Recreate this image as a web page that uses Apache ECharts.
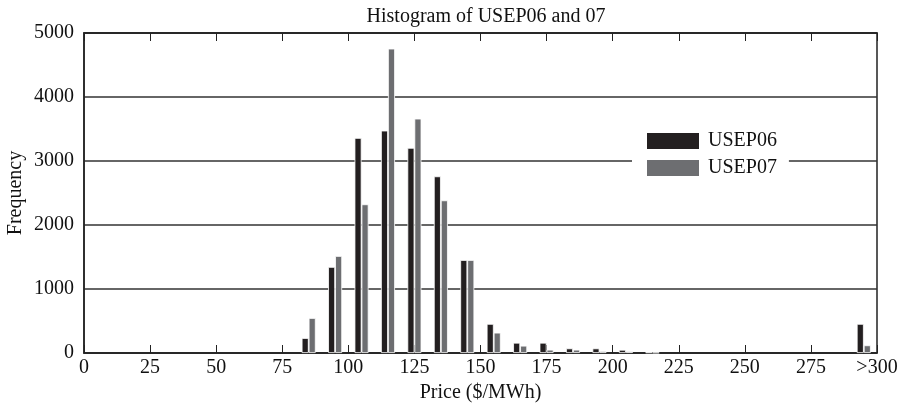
<!DOCTYPE html>
<html><head><meta charset="utf-8">
<script src="https://cdn.jsdelivr.net/npm/echarts@6/dist/echarts.min.js"></script>
<style>html,body{margin:0;padding:0;background:#fff}#c{width:905px;height:404px}</style>
</head><body><div id="c"></div>
<script>
const binCenters = [85, 95, 105, 115, 125, 135, 145, 155, 165, 175, 185, 195, 205, 215, 295];
const usep06 = [234, 1345, 3360, 3475, 3205, 2760, 1453, 455, 160, 160, 72, 72, 50, 10, 455];
const usep07 = [547, 1516, 2323, 4756, 3662, 2385, 1453, 318, 114, 52, 52, 31, 25, 5, 120];
const xTicks = [0, 25, 50, 75, 100, 125, 150, 175, 200, 225, 250, 275, 300];
const yTicks = [0, 1000, 2000, 3000, 4000, 5000];

const serif = '"Liberation Serif", "DejaVu Serif", serif';
const chart = echarts.init(document.getElementById('c'), null, {renderer: 'canvas'});
const pairs = (vals) => binCenters.map((x, i) => [x, vals[i]]);
chart.setOption({
  animation: false,
  backgroundColor: '#fff',
  title: {
    text: 'Histogram of USEP06 and 07',
    left: 481, top: 2, textAlign: 'center',
    textStyle: {fontFamily: serif, fontSize: 20, fontWeight: 'normal', color: '#111'}
  },
  legend: {
    orient: 'vertical', left: 632, top: 131,
    itemWidth: 54, itemHeight: 18, itemGap: 7,
    padding: [0, 12, 0, 13],
    backgroundColor: '#fff',
    icon: 'rect',
    textStyle: {fontFamily: serif, fontSize: 20, color: '#111', padding: [0, 0, 0, 3]},
    data: ['USEP06', 'USEP07']
  },
  grid: {left: 84, right: 28, top: 33, bottom: 51, containLabel: false, outerBoundsMode: 'none',
    show: true, borderColor: '#222', borderWidth: 1.5, backgroundColor: 'transparent'},
  xAxis: [{
    type: 'value', min: 0, max: 300, interval: 25,
    name: 'Price ($/MWh)', nameLocation: 'middle', nameGap: 26,
    nameTextStyle: {fontFamily: serif, fontSize: 20, color: '#111'},
    axisLine: {show: true, lineStyle: {color: '#222', width: 1.5}},
    axisTick: {show: true, inside: true, length: 8, lineStyle: {color: '#222'}},
    axisLabel: {fontFamily: serif, fontSize: 20, color: '#111', margin: 5,
      formatter: v => (v === 300 ? '>300' : String(v))},
    splitLine: {show: false}
  }, {
    type: 'value', min: 0, max: 300, interval: 25, position: 'top',
    axisLine: {show: true, lineStyle: {color: '#222', width: 1.5}},
    axisTick: {show: true, inside: true, length: 8, lineStyle: {color: '#222'}},
    axisLabel: {show: false}, splitLine: {show: false}
  }],
  yAxis: {
    type: 'value', min: 0, max: 5000, interval: 1000,
    name: 'Frequency', nameLocation: 'middle', nameGap: 58, nameRotate: 90,
    nameMoveOverlap: false,
    nameTextStyle: {fontFamily: serif, fontSize: 20, color: '#111'},
    axisLine: {show: true, lineStyle: {color: '#222', width: 1.5}},
    axisTick: {show: false},
    axisLabel: {fontFamily: serif, fontSize: 20, color: '#111', margin: 10,
      formatter: v => String(v)},
    splitLine: {show: true, lineStyle: {color: '#333', width: 1.5}}
  },
  series: [{
    name: 'USEP06', type: 'bar', data: pairs(usep06), barWidth: 7, barGap: '0%',
    itemStyle: {color: '#231f20', borderColor: '#fff', borderWidth: 0.8}
  }, {
    name: 'USEP07', type: 'bar', data: pairs(usep07), barWidth: 7, barGap: '0%',
    itemStyle: {color: '#6d6e71', borderColor: '#fff', borderWidth: 0.8}
  }]
});
</script></body></html>
